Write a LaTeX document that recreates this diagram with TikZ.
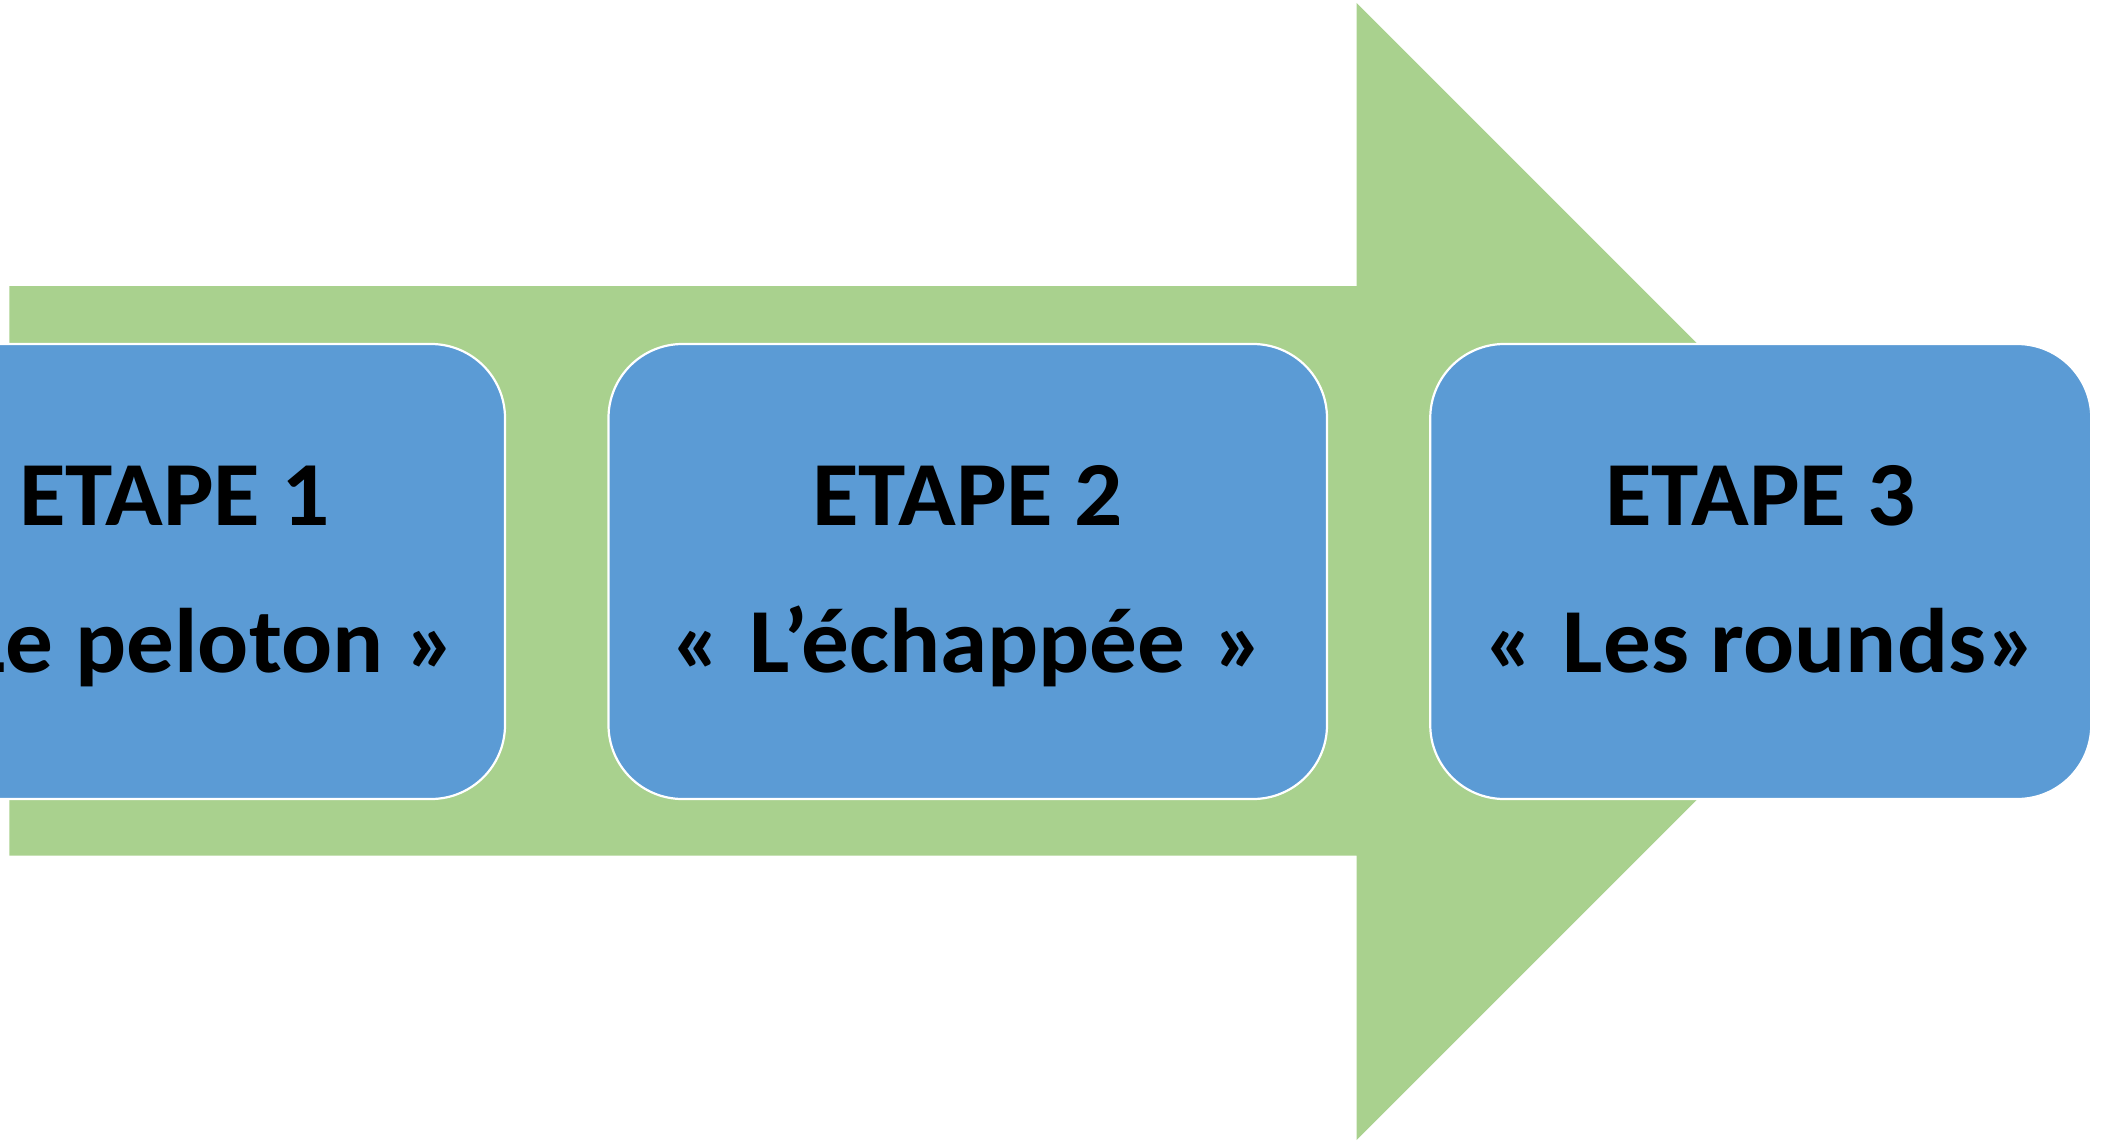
\documentclass[tikz,border=0pt]{standalone}
\usepackage{fontspec}
\setmainfont{Carlito}[FakeStretch=1.04]
\definecolor{arrowgreen}{RGB}{169,209,142}
\definecolor{stepblue}{RGB}{91,155,213}
\tikzset{
  stepbox/.style={draw=white, line width=2.2pt, fill=stepblue,
    rounded corners=74pt, minimum height=455pt, inner sep=0pt},
  steptext/.style={anchor=base, inner sep=0pt, text=black,
    font=\fontsize{91.6}{110}\selectfont\bfseries}
}
\begin{document}
\begin{tikzpicture}[x=1pt, y=-1pt]
  \useasboundingbox (0,0) rectangle (2106,1140);
  \clip (0,0) rectangle (2106,1140);
  % big process arrow
  \fill[arrowgreen] (9.4,286) -- (1356.5,286) -- (1356.5,3) -- (1925,571.5)
    -- (1356.5,1140) -- (1356.5,855.5) -- (9.4,855.5) -- cycle;
  % step boxes
  \node[stepbox, minimum width=661pt] (b1) at (174.5,571.5) {};
  \node[stepbox, minimum width=718.5pt] (b2) at (967.75,571.5) {};
  \node[stepbox, minimum width=661pt] (b3) at (1760.75,571.5) {};
  % step labels
  \node[steptext] (t1a) at (174.5,525) {ETAPE 1};
  \node[steptext] (t1b) at (174.5,672) {« Le peloton »};
  \node[steptext] (t2a) at (967.75,525) {ETAPE 2};
  \node[steptext] (t2b) at (967.75,672) {«\hspace{0.3em}L’échappée\hspace{0.3em}»};
  \node[steptext] (t3a) at (1760.75,525) {ETAPE 3};
  \node[steptext] (t3b) at (1760.75,672) {«\hspace{0.3em}Les rounds»};
\end{tikzpicture}
\end{document}
